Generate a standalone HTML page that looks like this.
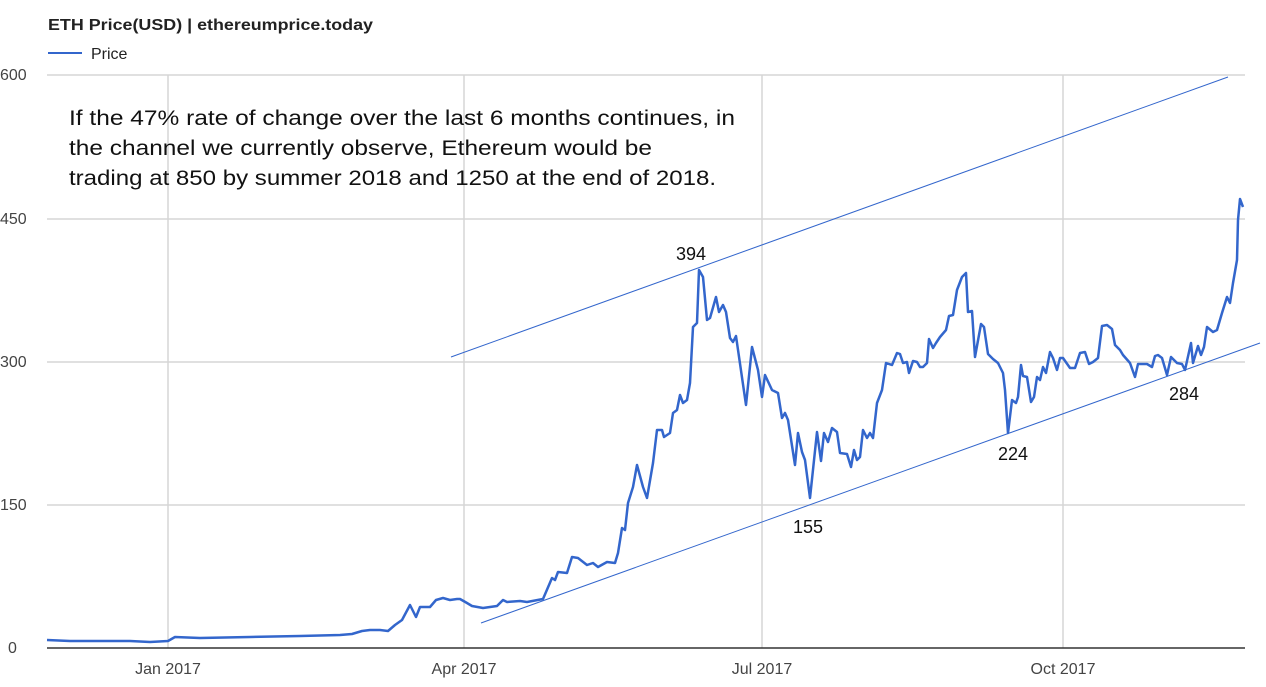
<!DOCTYPE html><html><head><style>body{margin:0;background:#fff}svg{display:block}</style></head><body>
<svg width="1266" height="687" xmlns="http://www.w3.org/2000/svg" font-family="Liberation Sans, Arial, sans-serif">
<text x="48" y="30" font-size="16" font-weight="bold" fill="#222" textLength="325" lengthAdjust="spacingAndGlyphs">ETH Price(USD) | ethereumprice.today</text>
<line x1="48" y1="53" x2="82" y2="53" stroke="#3366cc" stroke-width="2"/>
<text x="91" y="59" font-size="16" fill="#222">Price</text>
<g stroke="#d6d6d6" stroke-width="1.5">
<line x1="47" y1="75" x2="1245" y2="75"/><line x1="47" y1="219" x2="1245" y2="219"/><line x1="47" y1="362" x2="1245" y2="362"/><line x1="47" y1="505" x2="1245" y2="505"/>
<line x1="168" y1="75" x2="168" y2="648"/><line x1="464" y1="75" x2="464" y2="648"/><line x1="762" y1="75" x2="762" y2="648"/><line x1="1063" y1="75" x2="1063" y2="648"/>
</g>
<line x1="47" y1="648" x2="1245" y2="648" stroke="#333" stroke-width="1.5"/>
<g font-size="16" fill="#444"><text x="0" y="80">600</text><text x="0" y="224">450</text><text x="0" y="367">300</text><text x="0" y="510">150</text><text x="8" y="653">0</text>
<text x="168" y="674" text-anchor="middle">Jan 2017</text><text x="464" y="674" text-anchor="middle">Apr 2017</text><text x="762" y="674" text-anchor="middle">Jul 2017</text><text x="1063" y="674" text-anchor="middle">Oct 2017</text></g>
<g stroke="#3366cc" stroke-width="1"><line x1="451" y1="357" x2="1228" y2="77"/><line x1="481" y1="623" x2="1260" y2="343"/></g>
<polyline fill="none" stroke="#3366cc" stroke-width="2.5" stroke-linejoin="round" points="47,640 70,641 100,641 130,641 150,642 168,641 175,637 200,638 250,637 300,636 340,635 352,634 362,631 370,630 380,630 388,631 395,625 402,620 410,605 416,617 420,607 430,607 436,600 443,598 450,600 457,599 460,599 467,603 472,606 483,608 497,606 503,600 507,602 520,601 527,602 543,599 552,578 555,580 558,572 567,573 572,557 578,558 587,565 593,563 598,567 607,562 615,563 618,553 622,528 625,530 628,503 633,487 637,465 643,487 647,498 653,463 657,430 662,430 664,437 670,433 673,413 677,410 680,395 683,403 687,400 690,383 693,327 697,323 699,270 703,277 707,320 710,318 716,297 719,312 723,305 726,312 730,338 733,342 736,336 746,405 752,347 758,370 762,397 765,375 772,390 778,393 782,418 785,413 788,420 795,465 798,433 802,452 805,460 810,498 817,432 821,461 824,433 828,442 832,428 837,432 840,453 847,454 851,467 854,450 857,460 860,457 863,430 867,438 870,433 873,438 877,403 882,390 886,363 892,365 897,353 900,354 903,363 907,362 909,373 913,361 917,362 920,367 923,367 927,363 929,339 933,348 936,343 940,337 946,330 949,316 953,315 957,290 962,277 966,273 968,312 972,311 975,357 981,324 984,327 988,354 993,359 998,363 1003,373 1005,390 1008,433 1012,400 1016,403 1018,397 1021,365 1023,376 1027,377 1031,402 1034,397 1037,377 1040,380 1043,367 1046,373 1050,352 1053,358 1057,370 1060,358 1063,358 1070,368 1075,368 1080,353 1085,352 1089,364 1093,362 1098,358 1102,326 1107,325 1112,329 1115,345 1120,350 1123,355 1130,363 1135,377 1138,364 1147,364 1152,367 1155,356 1158,355 1162,358 1167,375 1171,357 1177,363 1182,364 1185,370 1191,343 1193,363 1198,346 1201,355 1204,347 1207,327 1213,332 1217,330 1222,313 1227,297 1230,303 1233,283 1237,260 1238,220 1240,199 1243,207"/>
<g font-family="Liberation Sans, Carlito, sans-serif" font-size="21" fill="#111">
<text x="69" y="125" textLength="666" lengthAdjust="spacingAndGlyphs">If the 47% rate of change over the last 6 months continues, in</text>
<text x="69" y="155" textLength="583" lengthAdjust="spacingAndGlyphs">the channel we currently observe, Ethereum would be</text>
<text x="69" y="185" textLength="647" lengthAdjust="spacingAndGlyphs">trading at 850 by summer 2018 and 1250 at the end of 2018.</text>
<g font-size="18"><text x="676" y="260">394</text><text x="793" y="533">155</text><text x="998" y="460">224</text><text x="1169" y="400">284</text></g>
</g>
</svg></body></html>
